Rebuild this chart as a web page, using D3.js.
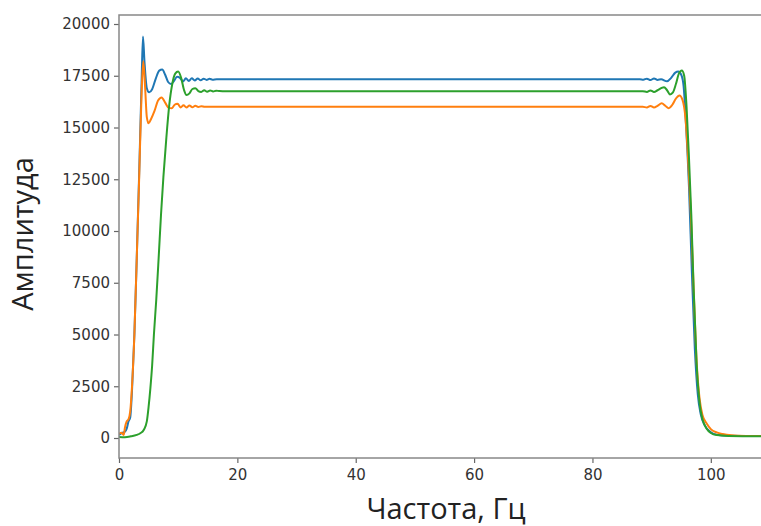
<!DOCTYPE html>
<html>
<head>
<meta charset="utf-8">
<script src="https://cdn.jsdelivr.net/npm/d3@7"></script>
<style>
  html, body { margin: 0; padding: 0; background: #fff; }
  svg { display: block; }
</style>
</head>
<body>
<svg id="chart" width="761" height="526"></svg>
<script>
// Frequency response of three filters (amplitude vs frequency, Hz)
const blueFreq = [0, 0.5, 1.0, 1.3, 1.6, 1.9, 2.2, 2.6, 3.0, 3.4, 3.8, 4.05, 4.3, 4.7, 5.1, 5.6, 6.2, 6.8, 7.3, 7.8, 8.3, 8.8, 9.3, 9.8, 10.3, 10.8, 11.3, 11.8, 12.3, 12.8, 13.3, 13.8, 14.3, 14.8, 15.3, 15.8, 16.5, 30, 50, 70, 88.0, 88.6, 89.2, 89.8, 90.4, 91.0, 91.6, 92.6, 93.3, 94.0, 94.5, 95.0, 95.4, 95.8, 96.3, 96.8, 97.3, 97.8, 98.3, 99, 100, 101, 103, 110];
const blueAmp = [150, 250, 300, 450, 800, 1000, 2300, 5000, 8700, 12700, 17000, 19400, 18200, 16900, 16700, 16850, 17350, 17750, 17800, 17550, 17200, 17100, 17250, 17450, 17400, 17220, 17380, 17250, 17380, 17270, 17370, 17280, 17360, 17300, 17350, 17310, 17330, 17330, 17330, 17330, 17330, 17310, 17360, 17290, 17370, 17300, 17330, 17230, 17400, 17650, 17700, 17550, 17000, 15200, 12200, 8000, 4300, 2100, 1150, 600, 280, 160, 110, 90];

const orangeFreq = [0, 0.4, 0.8, 1.0, 1.3, 1.6, 1.9, 2.2, 2.6, 3.0, 3.4, 3.8, 4.1, 4.4, 4.7, 5.0, 5.4, 6.0, 6.6, 7.2, 7.8, 8.4, 8.9, 9.4, 9.9, 10.4, 10.9, 11.4, 11.9, 12.4, 12.9, 13.4, 13.9, 14.5, 30, 50, 70, 88.5, 89.2, 89.8, 90.4, 91.0, 91.7, 92.3, 92.9, 93.5, 94.1, 94.7, 95.2, 95.7, 96.1, 96.6, 97.1, 97.6, 98.1, 98.6, 99.3, 100, 101, 102, 103.5, 106, 110];
const orangeAmp = [200, 250, 150, 500, 800, 900, 1300, 2500, 5000, 8700, 12500, 16500, 18200, 17000, 15500, 15200, 15400, 15800, 16300, 16450, 16200, 15950, 15930, 16100, 16150, 15970, 16080, 15970, 16060, 15980, 16050, 15990, 16030, 16000, 16000, 16000, 16000, 16000, 15970, 16040, 15970, 16050, 16170, 16050, 15930, 16100, 16400, 16550, 16350, 15500, 13800, 11000, 7200, 3700, 1900, 1100, 700, 430, 270, 190, 130, 100, 90];

const greenFreq = [0, 1, 2, 3, 3.6, 4.2, 4.7, 5.0, 5.3, 5.6, 5.9, 6.3, 6.7, 7.1, 7.5, 8.0, 8.5, 9.0, 9.5, 10.0, 10.5, 11.0, 11.4, 11.9, 12.4, 12.9, 13.4, 13.9, 14.4, 14.9, 15.4, 15.9, 16.4, 17.0, 18, 40, 60, 88.5, 89.2, 89.8, 90.4, 91.0, 91.6, 92.1, 92.6, 93.1, 93.6, 94.1, 94.6, 95.1, 95.5, 95.9, 96.3, 96.7, 97.1, 97.6, 98.1, 98.6, 99.3, 100, 101, 103, 110];
const greenAmp = [50, 40, 80, 150, 230, 400, 800, 1500, 2400, 3500, 5000, 6700, 8700, 10800, 12600, 14500, 16100, 17100, 17600, 17700, 17400, 16800, 16570, 16650, 16860, 16900, 16760, 16720, 16800, 16730, 16790, 16740, 16780, 16760, 16750, 16750, 16750, 16750, 16720, 16790, 16720, 16800, 16900, 16950, 16800, 16600, 16700, 17100, 17600, 17750, 17500, 16000, 13600, 10800, 7200, 3600, 1700, 900, 450, 240, 140, 100, 80];

const xTicks = [0, 20, 40, 60, 80, 100];
const yTicks = [0, 2500, 5000, 7500, 10000, 12500, 15000, 17500, 20000];
const xLabel = "Частота, Гц";
const yLabel = "Амплитуда";

const svg = d3.select("#chart");
const plot = { left: 119, right: 770, top: 15, bottom: 458 };

const x = d3.scaleLinear().domain([0, 110]).range([plot.left, plot.right]);
const y = d3.scaleLinear().domain([-966, 20435]).range([plot.bottom, plot.top]);

const series = [
  { freq: blueFreq, amp: blueAmp, color: "#1f77b4" },
  { freq: orangeFreq, amp: orangeAmp, color: "#ff7f0e" },
  { freq: greenFreq, amp: greenAmp, color: "#2ca02c" }
];

const line = d3.line()
  .x(d => x(d[0]))
  .y(d => y(d[1]))
  .curve(d3.curveMonotoneX);

svg.append("defs").append("clipPath").attr("id", "clip")
  .append("rect")
  .attr("x", plot.left).attr("y", plot.top)
  .attr("width", plot.right - plot.left).attr("height", plot.bottom - plot.top);

const lines = svg.append("g").attr("clip-path", "url(#clip)");
series.forEach(s => {
  lines.append("path")
    .datum(d3.zip(s.freq, s.amp))
    .attr("fill", "none")
    .attr("stroke", s.color)
    .attr("stroke-width", 2)
    .attr("stroke-linejoin", "round")
    .attr("d", line);
});

// axes
const xAxis = svg.append("g")
  .attr("transform", `translate(0,${plot.bottom})`)
  .call(d3.axisBottom(x).tickValues(xTicks).tickFormat(d3.format("d")).tickSize(5).tickSizeOuter(0));
const yAxis = svg.append("g")
  .attr("transform", `translate(${plot.left},0)`)
  .call(d3.axisLeft(y).tickValues(yTicks).tickFormat(d3.format("d")).tickSize(5).tickSizeOuter(0));

[xAxis, yAxis].forEach(g => {
  g.select(".domain").remove();
  g.selectAll(".tick line").attr("stroke", "#666").attr("stroke-width", 1.2);
  g.selectAll(".tick text")
    .attr("fill", "#333")
    .style("font-family", "DejaVu Sans, sans-serif")
    .style("font-size", "15px");
});
xAxis.selectAll(".tick text").attr("dy", "0.95em");
yAxis.selectAll(".tick text").attr("x", -9);

// frame
svg.append("rect")
  .attr("x", plot.left).attr("y", plot.top)
  .attr("width", plot.right - plot.left).attr("height", plot.bottom - plot.top)
  .attr("fill", "none")
  .attr("stroke", "#888")
  .attr("stroke-width", 1.5);

// axis titles
svg.append("text")
  .attr("x", 446).attr("y", 519)
  .attr("text-anchor", "middle")
  .attr("fill", "#222")
  .style("font-family", "Open Sans, sans-serif")
  .style("font-size", "29px")
  .text(xLabel);

svg.append("text")
  .attr("transform", "translate(33,234) rotate(-90)")
  .attr("text-anchor", "middle")
  .attr("fill", "#222")
  .style("font-family", "Open Sans, sans-serif")
  .style("font-size", "29px")
  .text(yLabel);
</script>
</body>
</html>
